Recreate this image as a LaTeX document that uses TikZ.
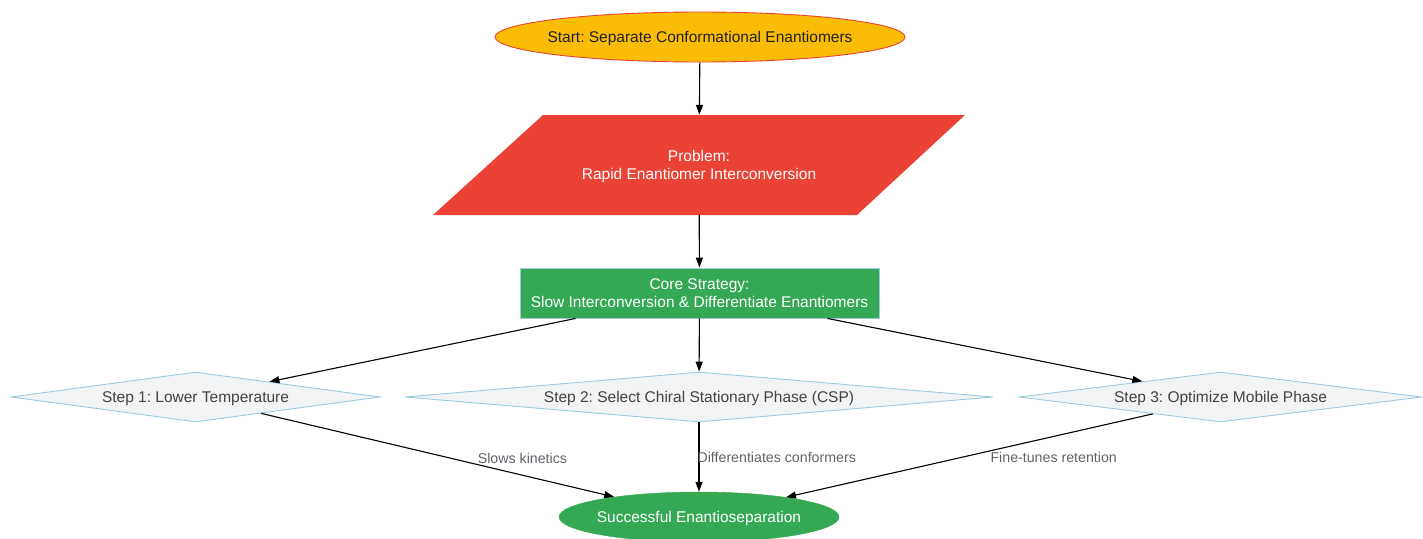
\documentclass[tikz,border=0pt]{standalone}
\usepackage{fontspec}
\setmainfont{Liberation Sans}
\usetikzlibrary{shapes.geometric,arrows.meta}
\frenchspacing

\definecolor{startyellow}{HTML}{FBBC05}
\definecolor{problemred}{HTML}{EA4335}
\definecolor{coregreen}{HTML}{34A853}
\definecolor{stepgray}{HTML}{F1F3F4}
\definecolor{edgeblue}{HTML}{9ECAE1}
\definecolor{darktext}{HTML}{202124}
\definecolor{labelgray}{HTML}{5F6368}

\tikzset{
  txt/.style={font=\fontsize{15.5}{18.5}\selectfont, align=center, inner sep=0pt, text depth=0pt},
  startnode/.style={txt, ellipse, inner xsep=-20pt, draw=problemred, line width=0.9pt, fill=startyellow,
    text=darktext, minimum width=410, minimum height=50},
  problemnode/.style={txt, rectangle, text=white, minimum width=422, minimum height=100},
  corenode/.style={txt, rectangle, draw=edgeblue, line width=0.9pt, fill=coregreen, text=white,
    minimum width=359, minimum height=50},
  stepnode/.style={txt, diamond, draw=edgeblue, line width=0.9pt, fill=stepgray, text=darktext!85,
    minimum height=50},
  endnode/.style={txt, ellipse, inner xsep=-20pt, draw=coregreen, fill=coregreen, text=white,
    minimum width=280, minimum height=50},
  arr/.style={-{Triangle[length=10pt,width=7pt]}, line width=1.1pt},
  lbl/.style={font=\fontsize{14.2}{17}\selectfont, text=labelgray, inner sep=0pt}
}

\begin{document}
\begin{tikzpicture}[x=1pt,y=-1pt]
  \useasboundingbox (0,0) rectangle (1423,538);

  % Start
  \node[startnode] (start) at (700,37) {Start: Separate Conformational Enantiomers};
  % Problem (parallelogram)
  \fill[problemred] (543,115) -- (965,115) -- (857,215) -- (433,215) -- cycle;
  \node[problemnode] (problem) at (699,165) {Problem:\\Rapid Enantiomer Interconversion};
  % Core strategy
  \node[corenode] (core) at (699.5,293) {Core Strategy:\\Slow Interconversion \& Differentiate Enantiomers};
  % Steps
  \node[stepnode, minimum width=369, shape aspect=7.4] (step1) at (195.5,397) {Step 1: Lower Temperature};
  \node[stepnode, minimum width=588, shape aspect=11.8] (step2) at (699,397) {Step 2: Select Chiral Stationary Phase (CSP)};
  \node[stepnode, minimum width=403, shape aspect=8] (step3) at (1220.5,397) {Step 3: Optimize Mobile Phase};
  % Result
  \node[endnode] (result) at (699,517) {Successful Enantioseparation};

  % Main flow
  \draw[arr] (start) -- (problem);
  \draw[arr] (problem) -- (core);
  \draw[arr] ([xshift=-124]core.south) -- (step1);
  \draw[arr] (core) -- (step2);
  \draw[arr] ([xshift=128]core.south) -- (step3);

  % Into the result
  \draw[arr] (step1.-14.2) -- (result)
    node[lbl, pos=0.74, yshift=17pt] {Slows kinetics};
  \draw[arr] (step2) -- (result)
    node[lbl, midway, anchor=west, xshift=-2pt] {Differentiates conformers};
  \draw[arr] (step3.194.2) -- (result)
    node[lbl, pos=0.27, yshift=-21pt] {Fine-tunes retention};
\end{tikzpicture}
\end{document}
